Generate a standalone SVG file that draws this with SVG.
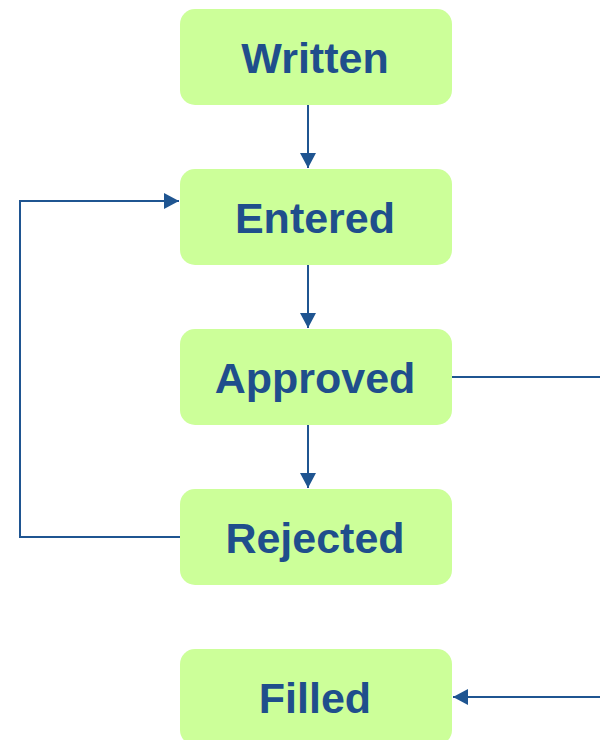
<svg xmlns="http://www.w3.org/2000/svg" width="600" height="740" viewBox="0 0 600 740">
<style>
.box{fill:#CCFF99;}
.lbl{font-family:"Liberation Sans",Arial,sans-serif;font-weight:bold;font-size:43px;fill:#1F4E8C;text-anchor:middle;}
.con{stroke:#1F5591;stroke-width:2;fill:none;}
</style>
<defs>
<marker id="ah" markerWidth="15" markerHeight="16" refX="15" refY="8" orient="auto" markerUnits="userSpaceOnUse">
<path d="M0,0 L15,8 L0,16 Z" fill="#1F5591"/>
</marker>
</defs>
<rect width="600" height="740" fill="#FFFFFF"/>
<g id="written"><rect class="box" x="180" y="9" width="272" height="96" rx="15"/><text class="lbl" x="315" y="73">Written</text></g>
<g id="entered"><rect class="box" x="180" y="169" width="272" height="96" rx="15"/><text class="lbl" x="315" y="233">Entered</text></g>
<g id="approved"><rect class="box" x="180" y="329" width="272" height="96" rx="15"/><text class="lbl" x="315" y="393">Approved</text></g>
<g id="rejected"><rect class="box" x="180" y="489" width="272" height="96" rx="15"/><text class="lbl" x="315" y="553">Rejected</text></g>
<g id="filled"><rect class="box" x="180" y="649" width="272" height="96" rx="15"/><text class="lbl" x="315" y="713">Filled</text></g>
<g id="connectors">
<line class="con" x1="308" y1="105" x2="308" y2="168" marker-end="url(#ah)"/>
<line class="con" x1="308" y1="265" x2="308" y2="328" marker-end="url(#ah)"/>
<line class="con" x1="308" y1="425" x2="308" y2="488" marker-end="url(#ah)"/>
<polyline class="con" points="180,537 20,537 20,201 179,201" marker-end="url(#ah)"/>
<line class="con" x1="452" y1="377" x2="600" y2="377"/>
<line class="con" x1="600" y1="697" x2="453" y2="697" marker-end="url(#ah)"/>
</g>
</svg>
